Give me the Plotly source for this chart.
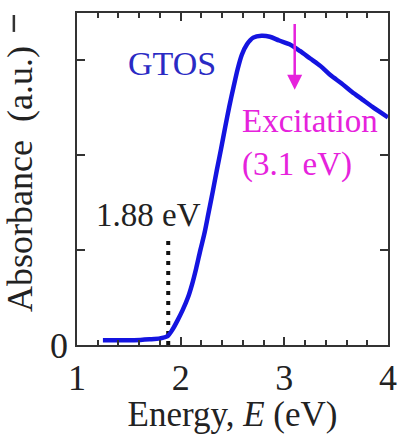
import plotly.graph_objects as go

# ---- data ----
energy = [1.25, 1.40, 1.55, 1.70, 1.80, 1.87, 1.92, 1.97, 2.02, 2.07, 2.11, 2.15,
          2.19, 2.23, 2.27, 2.31, 2.35, 2.39, 2.43, 2.47, 2.51, 2.55, 2.59, 2.64,
          2.70, 2.78, 2.86, 2.95, 3.05, 3.15, 3.25, 3.35, 3.45, 3.55, 3.65, 3.75,
          3.85, 4.00]
absorbance = [0.05, 0.05, 0.05, 0.06, 0.07, 0.09, 0.16, 0.26, 0.37, 0.50, 0.64, 0.81,
              1.00, 1.18, 1.40, 1.62, 1.85, 2.07, 2.30, 2.52, 2.72, 2.91, 3.06, 3.17,
              3.24, 3.26, 3.25, 3.21, 3.17, 3.10, 3.02, 2.94, 2.84, 2.76, 2.67, 2.59,
              2.51, 2.40]
onset_energy = 1.88
onset_line_top = 1.14
excitation_energy = 3.1
excitation_arrow = [3.40, 2.69]   # tail, head (absorbance units)
x_tickvals = [1, 2, 3, 4]
x_ticktext = ["1", "2", "3", "4"]
y_tickvals = [0, 1, 2, 3]
y_ticktext = ["0", "", "", ""]

SERIF = "Times New Roman, Liberation Serif, serif"
BLUE = "#1414e0"
MAGENTA = "#e622dc"

fig = go.Figure()
fig.add_trace(go.Scatter(
    x=[onset_energy, onset_energy], y=[0, onset_line_top], mode="lines",
    line=dict(color="#111111", width=4, dash="4px,6px"), showlegend=False, hoverinfo="skip"))
fig.add_trace(go.Scatter(
    x=energy, y=absorbance, mode="lines", line=dict(color=BLUE, width=4.5, shape="spline", smoothing=0.8),
    showlegend=False))

fig.add_annotation(x=excitation_energy, y=excitation_arrow[1], ax=excitation_energy, ay=excitation_arrow[0],
                   xref="x", yref="y", axref="x", ayref="y", text="", showarrow=True,
                   arrowhead=2, arrowsize=1.2, arrowwidth=2.5, arrowcolor=MAGENTA)
fig.add_annotation(x=1.92, y=2.97, xref="x", yref="y", text="GTOS", showarrow=False,
                   font=dict(family=SERIF, size=34, color="#2a2ac4"))
fig.add_annotation(x=1.685, y=1.37, xref="x", yref="y", text="1.88 eV", showarrow=False,
                   font=dict(family=SERIF, size=33, color="#222222"))
fig.add_annotation(x=2.575, y=2.36, xref="x", yref="y", text="Excitation", showarrow=False,
                   xanchor="left", font=dict(family=SERIF, size=33, color=MAGENTA))
fig.add_annotation(x=2.575, y=1.90, xref="x", yref="y", text="(3.1 eV)", showarrow=False,
                   xanchor="left", font=dict(family=SERIF, size=33, color=MAGENTA))

# clipped panel-label remnant at the top-left corner
fig.add_shape(type="line", xref="paper", yref="paper", x0=-0.203, x1=-0.203, y0=0.943, y1=0.994,
              line=dict(color="#333333", width=2.5), layer="above")

axis_common = dict(showline=True, linecolor="#333333", linewidth=1.5, mirror="ticks",
                   ticks="inside", tickcolor="#333333", tickwidth=1.5, ticklen=8,
                   showgrid=False, zeroline=False,
                   tickfont=dict(family=SERIF, size=36, color="#222222"))
fig.update_xaxes(range=[1, 4], tickvals=x_tickvals, ticktext=x_ticktext,
                 minor=dict(ticks="inside", dtick=0.2, tick0=1, ticklen=5, tickcolor="#333333", tickwidth=1.5),
                 title=dict(text="Energy, <i>E</i> (eV)", font=dict(family=SERIF, size=35, color="#222222"),
                            standoff=4),
                 **axis_common)
fig.update_yaxes(range=[0, 3.5], tickvals=y_tickvals, ticktext=y_ticktext,
                 title=dict(text="Absorbance  (a.u.)", font=dict(family=SERIF, size=36, color="#222222"),
                            standoff=6),
                 **axis_common)
fig.update_layout(width=405, height=434, margin=dict(l=77, r=8, t=13, b=89),
                  paper_bgcolor="white", plot_bgcolor="white",
                  font=dict(family=SERIF))
fig.write_html("out.html")
